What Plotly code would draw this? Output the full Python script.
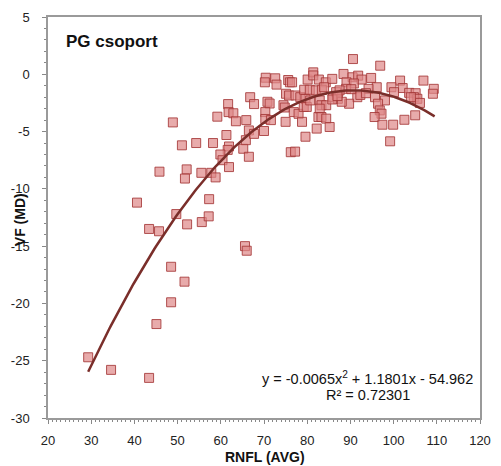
import numpy as np
import plotly.graph_objects as go

# RNFL (AVG) values
rnfl = [29.3, 34.6, 43.4, 45.1, 48.5, 48.5, 51.6, 65.6, 66.0,
        40.6, 43.4, 45.7, 49.7, 52.2, 55.6, 57.2, 57.3,
        45.8, 48.9, 51.0, 54.3, 58.2, 52.1, 51.7, 55.5, 57.8, 58.8,
        59.2, 61.7, 61.8, 62.9, 63.5, 61.3, 61.9, 61.6, 59.9, 60.4, 61.9, 65.2, 66.5,
        66.8, 67.7, 65.9, 66.5, 65.8, 67.7,
        70.4, 70.2, 72.6, 72.9, 75.6, 76.0, 76.5, 80.1, 81.4, 81.4,
        70.8, 71.3, 70.3, 70.3, 71.6, 70.0,
        75.1, 75.8, 77.3, 78.4, 74.5, 74.8, 76.9, 78.0, 78.8, 75.0, 79.6, 76.2, 77.2,
        79.6, 79.2, 79.9,
        90.6, 96.9, 82.7, 84.3, 85.8, 88.4, 90.5, 91.8, 92.6, 94.8, 89.1, 90.8, 96.1,
        79.3, 80.6, 82.0, 83.4, 83.9, 86.7, 89.0, 91.6, 94.2, 95.7, 98.0,
        80.7, 82.9, 83.3, 84.4, 86.0, 87.1, 89.7, 82.9, 82.6, 83.3, 84.4, 85.2, 82.2,
        96.4, 96.8, 97.2, 95.6, 97.4, 99.2,
        87.5, 92.3, 93.6, 90.2, 88.0, 85.8, 87.0,
        106.9, 109.3, 109.1, 101.5, 102.1, 99.5, 100.1, 103.6, 105.1, 104.7, 105.5,
        106.1, 104.0, 99.9, 102.5, 105.0]

# VF (MD) values
vf = [-24.7, -25.8, -26.5, -21.8, -19.9, -16.8, -18.1, -15.0, -15.4,
      -11.2, -13.5, -13.7, -12.2, -13.1, -12.9, -12.4, -10.9,
      -8.5, -4.2, -6.2, -6.0, -6.0, -8.3, -9.1, -8.6, -8.6, -9.0,
      -3.7, -2.6, -3.3, -3.4, -4.1, -5.3, -6.3, -6.6, -7.0, -7.5, -8.1, -6.5, -7.2,
      -2.0, -2.6, -4.0, -4.9, -5.75, -5.2,
      -0.3, -0.7, -0.35, -0.9, -0.5, -0.7, -0.7, -0.46, 0.17, -0.1,
      -2.4, -2.55, -3.3, -3.9, -4.0, -4.95,
      -1.7, -1.85, -1.85, -2.0, -2.7, -2.9, -3.3, -3.45, -4.15, -4.15, -5.45, -6.8, -6.75,
      -2.15, -2.85, -2.85,
      1.33, 0.75, -0.46, -0.7, -0.4, 0.03, -0.26, -0.12, -0.46, -0.32, -0.7, -0.8, -1.13,
      -1.35, -1.35, -1.4, -1.35, -1.13, -1.56, -1.27, -2.0, -1.27, -2.0, -2.28,
      -2.28, -2.28, -2.7, -2.7, -2.0, -2.14, -2.57, -3.0, -3.73, -3.73, -3.87, -4.6, -4.74,
      -2.57, -3.15, -3.44, -3.73, -4.4, -5.85,
      -1.4, -1.8, -1.65, -1.3, -2.4, -2.2, -1.9,
      -0.55, -1.27, -1.7, -0.55, -1.2, -1.13, -1.56, -1.62, -1.65, -2.0, -2.14,
      -2.5, -2.0, -4.4, -3.97, -3.58]

# Trendline coefficients (as printed on the chart) and range
coef = [-0.0065, 1.1801, -54.962]
trend_x_range = [29.3, 109.5]

x_ticks = [20, 30, 40, 50, 60, 70, 80, 90, 100, 110, 120]
x_tick_labels = ["20", "30", "40", "50", "60", "70", "80", "90", "100", "110", "120"]
y_ticks = [5, 0, -5, -10, -15, -20, -25, -30]
y_tick_labels = ["5", "0", "-5", "-10", "-15", "-20", "-25", "-30"]

tx = np.linspace(trend_x_range[0], trend_x_range[1], 200)
ty = np.polyval(coef, tx)

FONT = "Liberation Sans, Arial, sans-serif"

fig = go.Figure()
fig.add_trace(go.Scatter(
    x=rnfl, y=vf, mode="markers",
    marker=dict(symbol="square", size=9,
                color="rgba(222,135,135,0.7)",
                line=dict(color="rgba(165,55,55,0.85)", width=1)),
    showlegend=False, hoverinfo="x+y"))
fig.add_trace(go.Scatter(
    x=tx, y=ty, mode="lines",
    line=dict(color="#7a2e2a", width=2.5),
    showlegend=False, hoverinfo="skip"))

axis_common = dict(
    showgrid=False, zeroline=False, showline=True, mirror=True,
    linecolor="#9a9a9a", linewidth=1.5,
    ticks="outside", ticklen=4, tickcolor="#888888", tickwidth=1,
    tickfont=dict(family=FONT, size=13, color="#222222"),
    tickmode="array",
)

fig.update_xaxes(**axis_common, range=[20, 120], tickvals=x_ticks, ticktext=x_tick_labels,
                 ticklabelstandoff=6,
                 minor=dict(tickmode="linear", tick0=20, dtick=1, ticks="outside",
                            ticklen=2, tickcolor="#888888", showgrid=False))
fig.update_yaxes(**axis_common, range=[-30, 5], tickvals=y_ticks, ticktext=y_tick_labels,
                 ticklabelstandoff=10,
                 minor=dict(tickmode="linear", tick0=0, dtick=1, ticks="outside",
                            ticklen=2, tickcolor="#888888", showgrid=False))

L, R, T, B = 48, 10, 14, 48
W, H = 501, 466
pw, ph = W - L - R, H - T - B

def px(xp):
    return (xp - L) / pw

def py(yp):
    return (H - B - yp) / ph

annots = [
    dict(text="<b>PG csoport</b>", x=px(64), y=py(39), xanchor="left", yanchor="middle",
         font=dict(family=FONT, size=17, color="#111111")),
    dict(text="y = -0.0065x<sup>2</sup> + 1.1801x - 54.962", x=px(376), y=py(378),
         xanchor="center", yanchor="middle", font=dict(family=FONT, size=14.5, color="#111111")),
    dict(text="R² = 0.72301", x=px(376), y=py(395),
         xanchor="center", yanchor="middle", font=dict(family=FONT, size=14.5, color="#111111")),
    dict(text="<b>RNFL (AVG)</b>", x=px(271), y=py(457), xanchor="center", yanchor="middle",
         font=dict(family=FONT, size=14, color="#111111")),
    dict(text="<b>VF (MD)</b>", x=px(20), y=py(218), xanchor="center", yanchor="middle",
         textangle=-90, font=dict(family=FONT, size=14, color="#111111")),
]
for a in annots:
    a.update(xref="paper", yref="paper", showarrow=False)
fig.update_layout(
    width=W, height=H, margin=dict(l=L, r=R, t=T, b=B),
    paper_bgcolor="white", plot_bgcolor="white",
    annotations=annots, showlegend=False,
)

fig.write_html("out.html")
